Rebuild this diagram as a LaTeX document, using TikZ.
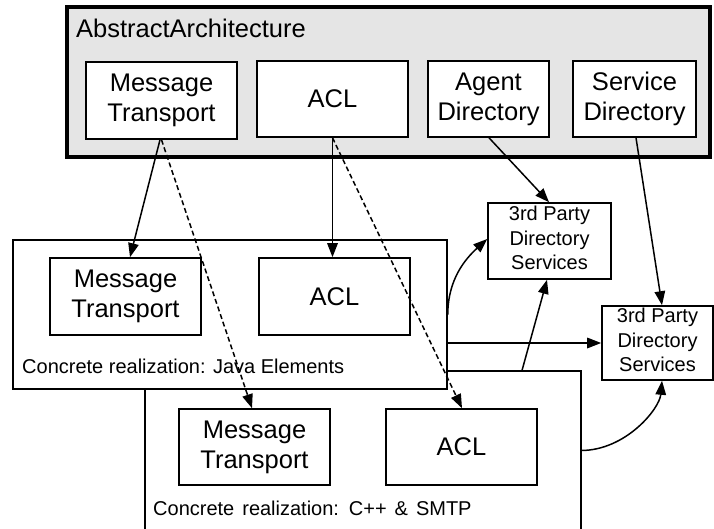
\documentclass[tikz,border=0pt]{standalone}
\usepackage{fontspec}
\setmainfont{Liberation Sans}
\usetikzlibrary{arrows.meta,calc}
\newcommand\bigtext{\fontsize{25.5}{30}\selectfont}
\newcommand\smalltext{\fontsize{20}{24.5}\selectfont}
\definecolor{absfill}{RGB}{229,229,229}
\begin{document}
\begin{tikzpicture}[x=1pt,y=-1pt,
  box/.style={draw,line width=1.6pt,fill=white,inner sep=0pt,align=center,font=\bigtext},
  dirbox/.style={draw,line width=1.6pt,fill=white,inner sep=0pt},
  dirtext/.style={inner sep=0pt,align=center,font=\smalltext},
  container/.style={line width=1.6pt,fill=white,inner sep=0pt},
  caption/.style={anchor=base west,inner sep=0pt,font=\smalltext},
  link/.style={line width=1.5pt,-{Triangle[length=14pt,width=10.5pt]}},
  dlink/.style={link,dash pattern=on 5pt off 3pt}]
\useasboundingbox (0,0) rectangle (714,529);

% abstract architecture
\node[draw,line width=3.5pt,fill=absfill,minimum width=643pt,minimum height=150pt,inner sep=0pt]
  (abs) at (388.5,82) {};
\node[anchor=base west,inner sep=0pt,font=\bigtext] (abstitle) at (76,38) {AbstractArchitecture};
\node[box,minimum width=151pt,minimum height=77pt] (tmt) at (161.5,100.5) {Message\\Transport};
\node[box,minimum width=151pt,minimum height=76pt] (tacl) at (332.5,99) {ACL};
\node[box,minimum width=121pt,minimum height=76pt] (tagent) at (488.5,99) {Agent\\Directory};
\node[box,minimum width=123pt,minimum height=76pt] (tserv) at (634.5,99) {Service\\Directory};

% C++ & SMTP realization (open at the bottom)
\node[container,minimum width=434pt,minimum height=157pt] (cpp) at (363,450.5) {};
\draw[line width=1.6pt] (cpp.south west) -- (cpp.north west) -- (cpp.north east) -- (cpp.south east);
\node[box,minimum width=151pt,minimum height=76pt] (cmt) at (254.5,447) {Message\\Transport};
\node[box,minimum width=151pt,minimum height=76pt] (cacl) at (461.5,447) {ACL};
\node[caption] (cpplabel) at (153,515) {\spaceskip=8pt Concrete realization: C++ \& SMTP};

% Java realization
\node[container,draw,minimum width=434pt,minimum height=149pt] (java) at (230,314.5) {};
\node[box,minimum width=151pt,minimum height=77pt] (jmt) at (125.5,296.5) {Message\\Transport};
\node[box,minimum width=151pt,minimum height=77pt] (jacl) at (334.5,296.5) {ACL};
\node[caption] (javalabel) at (22,373) {Concrete realization: Java Elements};

% third party directory services
\node[dirbox,minimum width=123pt,minimum height=76pt] (tp1) at (549.5,241) {};
\node[dirtext] (tp1text) at ([yshift=3pt]tp1.center) {3rd Party\\Directory\\Services};
\node[dirbox,minimum width=111pt,minimum height=74pt] (tp2) at (657.5,343) {};
\node[dirtext] (tp2text) at ([yshift=3pt]tp2.center) {3rd Party\\Directory\\Services};

% refinement arrows
\draw[link] ([xshift=-1.5pt]tmt.south) -- ([xshift=4.5pt]jmt.north);
\draw[link] (tacl.south) -- (tacl.south |- jacl.north);
\draw[dlink] (tmt.south) -- ([xshift=-2.5pt]cmt.north);
\draw[dlink] (tacl.south) -- ([xshift=0.5pt]cacl.north);

% directory arrows
\draw[link] ([xshift=0.5pt]tagent.south) -- ([xshift=-0.5pt]tp1.north);
\draw[link] ([xshift=1.5pt]tserv.south) -- ([xshift=4.5pt]tp2.north);
\draw[link] (java.east) .. controls ($(java.east)+(0,-35)$) and ($(tp1.west)+(-22,18)$) .. ([yshift=2pt]tp1.west);
\draw[link] (tp2.west -| java.east) -- (tp2.west);
\draw[link] ($(cpp.north east)+(-59,0)$) -- ([xshift=-2.5pt]tp1.south);
\draw[link] (cpp.east) .. controls ($(cpp.east)+(45,0)$) and ($(tp2.south)+(2,28)$) .. ([xshift=4.5pt]tp2.south);
\end{tikzpicture}
\end{document}
